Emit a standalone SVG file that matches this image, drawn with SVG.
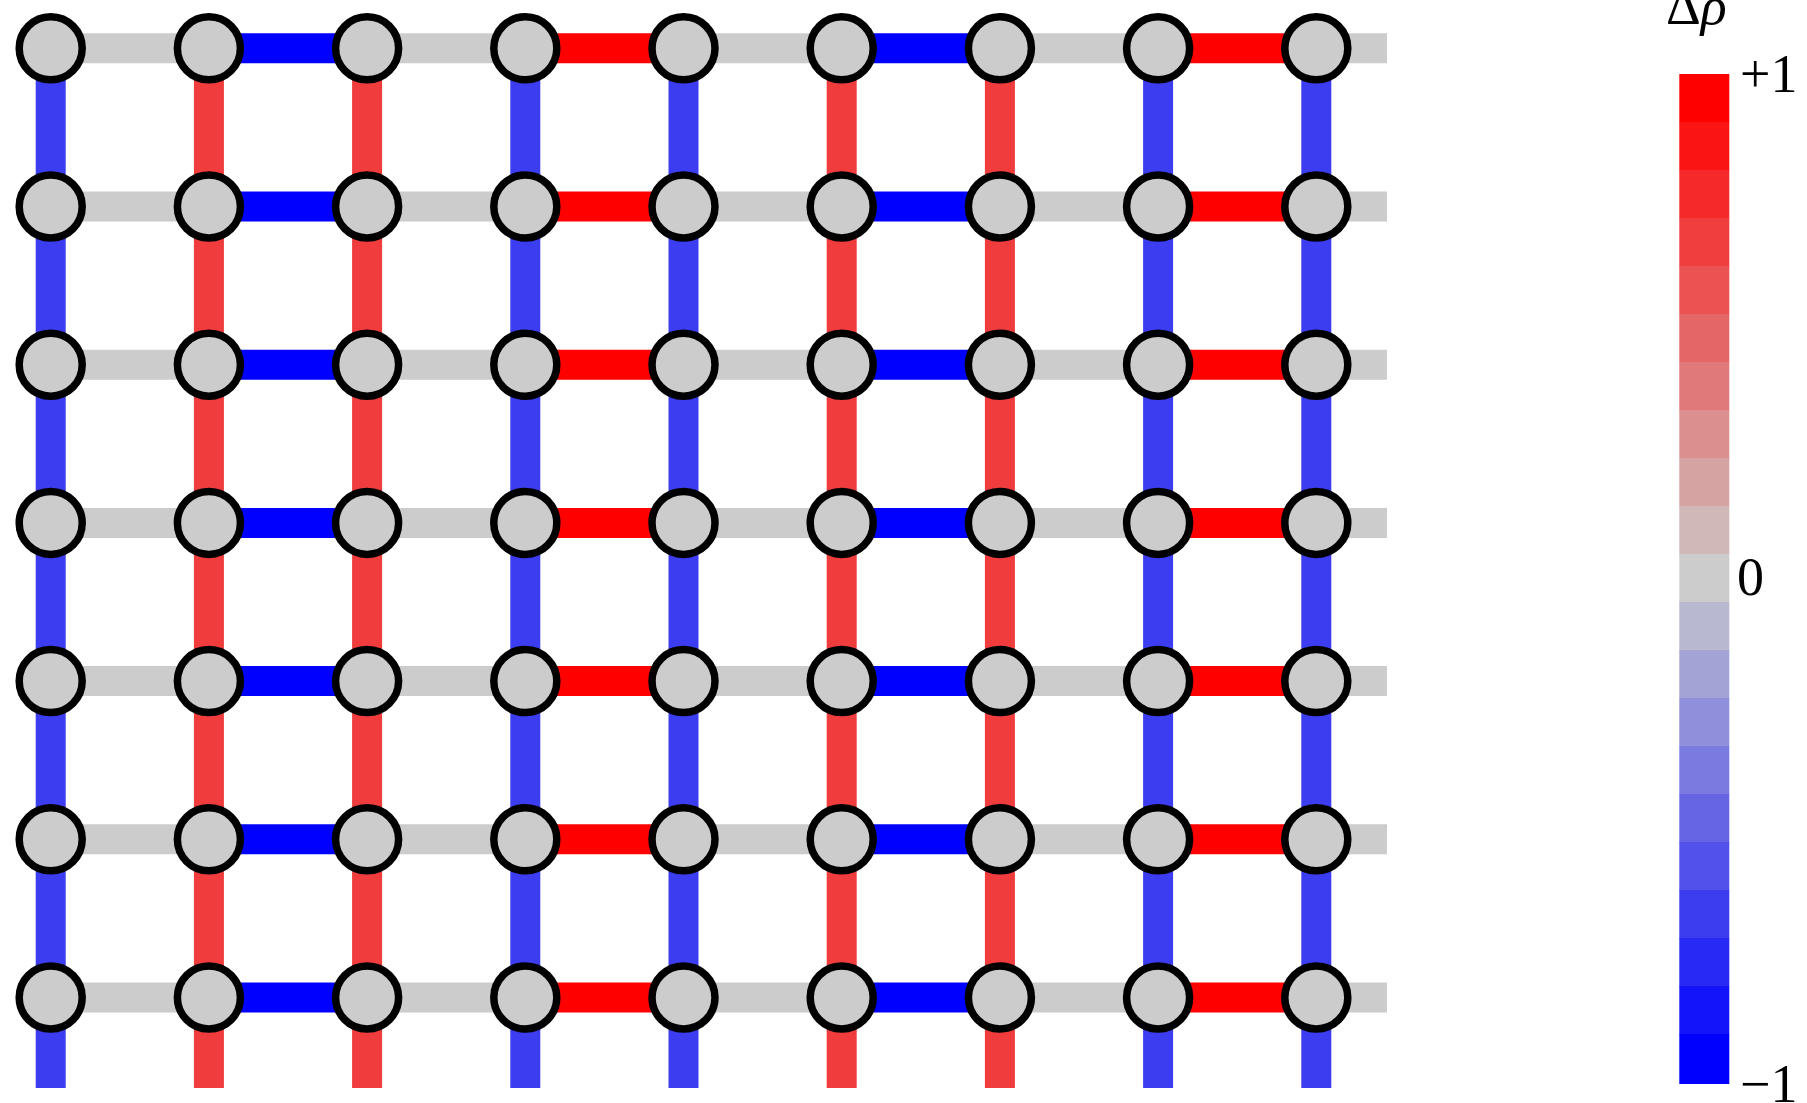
<svg xmlns="http://www.w3.org/2000/svg" width="1807" height="1103" viewBox="0 0 1807 1103">
<style>
.g{stroke:#cccccc;stroke-width:30;fill:none}
.hb{stroke:#0000ff;stroke-width:30;fill:none}
.hr{stroke:#ff0000;stroke-width:30;fill:none}
.vb{stroke:#3c3cf0;stroke-width:30;fill:none}
.vr{stroke:#f03c3c;stroke-width:30;fill:none}
.n{fill:#cccccc;stroke:#000000;stroke-width:7.5}
.t{font-family:"Liberation Serif","Times New Roman",serif;font-size:54px;fill:#000}
</style>
<rect width="1807" height="1103" fill="#ffffff"/>
<g id="connectors">
<line class="vb" x1="50.7" y1="48.3" x2="50.7" y2="1088"/>
<line class="vr" x1="208.9" y1="48.3" x2="208.9" y2="1088"/>
<line class="vr" x1="367.1" y1="48.3" x2="367.1" y2="1088"/>
<line class="vb" x1="525.3" y1="48.3" x2="525.3" y2="1088"/>
<line class="vb" x1="683.5" y1="48.3" x2="683.5" y2="1088"/>
<line class="vr" x1="841.7" y1="48.3" x2="841.7" y2="1088"/>
<line class="vr" x1="999.9" y1="48.3" x2="999.9" y2="1088"/>
<line class="vb" x1="1158.1" y1="48.3" x2="1158.1" y2="1088"/>
<line class="vb" x1="1316.3" y1="48.3" x2="1316.3" y2="1088"/>
<g id="row0" transform="translate(0,48.3)">
<line class="g" x1="50.7" y1="0" x2="208.9" y2="0"/><line class="hb" x1="208.9" y1="0" x2="367.1" y2="0"/><line class="g" x1="367.1" y1="0" x2="525.3" y2="0"/><line class="hr" x1="525.3" y1="0" x2="683.5" y2="0"/><line class="g" x1="683.5" y1="0" x2="841.7" y2="0"/><line class="hb" x1="841.7" y1="0" x2="999.9" y2="0"/><line class="g" x1="999.9" y1="0" x2="1158.1" y2="0"/><line class="hr" x1="1158.1" y1="0" x2="1316.3" y2="0"/><line class="g" x1="1316.3" y1="0" x2="1387" y2="0"/>
</g>
<g id="row1" transform="translate(0,206.5)">
<line class="g" x1="50.7" y1="0" x2="208.9" y2="0"/><line class="hb" x1="208.9" y1="0" x2="367.1" y2="0"/><line class="g" x1="367.1" y1="0" x2="525.3" y2="0"/><line class="hr" x1="525.3" y1="0" x2="683.5" y2="0"/><line class="g" x1="683.5" y1="0" x2="841.7" y2="0"/><line class="hb" x1="841.7" y1="0" x2="999.9" y2="0"/><line class="g" x1="999.9" y1="0" x2="1158.1" y2="0"/><line class="hr" x1="1158.1" y1="0" x2="1316.3" y2="0"/><line class="g" x1="1316.3" y1="0" x2="1387" y2="0"/>
</g>
<g id="row2" transform="translate(0,364.7)">
<line class="g" x1="50.7" y1="0" x2="208.9" y2="0"/><line class="hb" x1="208.9" y1="0" x2="367.1" y2="0"/><line class="g" x1="367.1" y1="0" x2="525.3" y2="0"/><line class="hr" x1="525.3" y1="0" x2="683.5" y2="0"/><line class="g" x1="683.5" y1="0" x2="841.7" y2="0"/><line class="hb" x1="841.7" y1="0" x2="999.9" y2="0"/><line class="g" x1="999.9" y1="0" x2="1158.1" y2="0"/><line class="hr" x1="1158.1" y1="0" x2="1316.3" y2="0"/><line class="g" x1="1316.3" y1="0" x2="1387" y2="0"/>
</g>
<g id="row3" transform="translate(0,522.9)">
<line class="g" x1="50.7" y1="0" x2="208.9" y2="0"/><line class="hb" x1="208.9" y1="0" x2="367.1" y2="0"/><line class="g" x1="367.1" y1="0" x2="525.3" y2="0"/><line class="hr" x1="525.3" y1="0" x2="683.5" y2="0"/><line class="g" x1="683.5" y1="0" x2="841.7" y2="0"/><line class="hb" x1="841.7" y1="0" x2="999.9" y2="0"/><line class="g" x1="999.9" y1="0" x2="1158.1" y2="0"/><line class="hr" x1="1158.1" y1="0" x2="1316.3" y2="0"/><line class="g" x1="1316.3" y1="0" x2="1387" y2="0"/>
</g>
<g id="row4" transform="translate(0,681.1)">
<line class="g" x1="50.7" y1="0" x2="208.9" y2="0"/><line class="hb" x1="208.9" y1="0" x2="367.1" y2="0"/><line class="g" x1="367.1" y1="0" x2="525.3" y2="0"/><line class="hr" x1="525.3" y1="0" x2="683.5" y2="0"/><line class="g" x1="683.5" y1="0" x2="841.7" y2="0"/><line class="hb" x1="841.7" y1="0" x2="999.9" y2="0"/><line class="g" x1="999.9" y1="0" x2="1158.1" y2="0"/><line class="hr" x1="1158.1" y1="0" x2="1316.3" y2="0"/><line class="g" x1="1316.3" y1="0" x2="1387" y2="0"/>
</g>
<g id="row5" transform="translate(0,839.3)">
<line class="g" x1="50.7" y1="0" x2="208.9" y2="0"/><line class="hb" x1="208.9" y1="0" x2="367.1" y2="0"/><line class="g" x1="367.1" y1="0" x2="525.3" y2="0"/><line class="hr" x1="525.3" y1="0" x2="683.5" y2="0"/><line class="g" x1="683.5" y1="0" x2="841.7" y2="0"/><line class="hb" x1="841.7" y1="0" x2="999.9" y2="0"/><line class="g" x1="999.9" y1="0" x2="1158.1" y2="0"/><line class="hr" x1="1158.1" y1="0" x2="1316.3" y2="0"/><line class="g" x1="1316.3" y1="0" x2="1387" y2="0"/>
</g>
<g id="row6" transform="translate(0,997.5)">
<line class="g" x1="50.7" y1="0" x2="208.9" y2="0"/><line class="hb" x1="208.9" y1="0" x2="367.1" y2="0"/><line class="g" x1="367.1" y1="0" x2="525.3" y2="0"/><line class="hr" x1="525.3" y1="0" x2="683.5" y2="0"/><line class="g" x1="683.5" y1="0" x2="841.7" y2="0"/><line class="hb" x1="841.7" y1="0" x2="999.9" y2="0"/><line class="g" x1="999.9" y1="0" x2="1158.1" y2="0"/><line class="hr" x1="1158.1" y1="0" x2="1316.3" y2="0"/><line class="g" x1="1316.3" y1="0" x2="1387" y2="0"/>
</g>
</g>
<g id="nodes">
<g id="n0_0"><circle class="n" cx="50.7" cy="48.3" r="31.5"/></g>
<g id="n0_1"><circle class="n" cx="208.9" cy="48.3" r="31.5"/></g>
<g id="n0_2"><circle class="n" cx="367.1" cy="48.3" r="31.5"/></g>
<g id="n0_3"><circle class="n" cx="525.3" cy="48.3" r="31.5"/></g>
<g id="n0_4"><circle class="n" cx="683.5" cy="48.3" r="31.5"/></g>
<g id="n0_5"><circle class="n" cx="841.7" cy="48.3" r="31.5"/></g>
<g id="n0_6"><circle class="n" cx="999.9" cy="48.3" r="31.5"/></g>
<g id="n0_7"><circle class="n" cx="1158.1" cy="48.3" r="31.5"/></g>
<g id="n0_8"><circle class="n" cx="1316.3" cy="48.3" r="31.5"/></g>
<g id="n1_0"><circle class="n" cx="50.7" cy="206.5" r="31.5"/></g>
<g id="n1_1"><circle class="n" cx="208.9" cy="206.5" r="31.5"/></g>
<g id="n1_2"><circle class="n" cx="367.1" cy="206.5" r="31.5"/></g>
<g id="n1_3"><circle class="n" cx="525.3" cy="206.5" r="31.5"/></g>
<g id="n1_4"><circle class="n" cx="683.5" cy="206.5" r="31.5"/></g>
<g id="n1_5"><circle class="n" cx="841.7" cy="206.5" r="31.5"/></g>
<g id="n1_6"><circle class="n" cx="999.9" cy="206.5" r="31.5"/></g>
<g id="n1_7"><circle class="n" cx="1158.1" cy="206.5" r="31.5"/></g>
<g id="n1_8"><circle class="n" cx="1316.3" cy="206.5" r="31.5"/></g>
<g id="n2_0"><circle class="n" cx="50.7" cy="364.7" r="31.5"/></g>
<g id="n2_1"><circle class="n" cx="208.9" cy="364.7" r="31.5"/></g>
<g id="n2_2"><circle class="n" cx="367.1" cy="364.7" r="31.5"/></g>
<g id="n2_3"><circle class="n" cx="525.3" cy="364.7" r="31.5"/></g>
<g id="n2_4"><circle class="n" cx="683.5" cy="364.7" r="31.5"/></g>
<g id="n2_5"><circle class="n" cx="841.7" cy="364.7" r="31.5"/></g>
<g id="n2_6"><circle class="n" cx="999.9" cy="364.7" r="31.5"/></g>
<g id="n2_7"><circle class="n" cx="1158.1" cy="364.7" r="31.5"/></g>
<g id="n2_8"><circle class="n" cx="1316.3" cy="364.7" r="31.5"/></g>
<g id="n3_0"><circle class="n" cx="50.7" cy="522.9" r="31.5"/></g>
<g id="n3_1"><circle class="n" cx="208.9" cy="522.9" r="31.5"/></g>
<g id="n3_2"><circle class="n" cx="367.1" cy="522.9" r="31.5"/></g>
<g id="n3_3"><circle class="n" cx="525.3" cy="522.9" r="31.5"/></g>
<g id="n3_4"><circle class="n" cx="683.5" cy="522.9" r="31.5"/></g>
<g id="n3_5"><circle class="n" cx="841.7" cy="522.9" r="31.5"/></g>
<g id="n3_6"><circle class="n" cx="999.9" cy="522.9" r="31.5"/></g>
<g id="n3_7"><circle class="n" cx="1158.1" cy="522.9" r="31.5"/></g>
<g id="n3_8"><circle class="n" cx="1316.3" cy="522.9" r="31.5"/></g>
<g id="n4_0"><circle class="n" cx="50.7" cy="681.1" r="31.5"/></g>
<g id="n4_1"><circle class="n" cx="208.9" cy="681.1" r="31.5"/></g>
<g id="n4_2"><circle class="n" cx="367.1" cy="681.1" r="31.5"/></g>
<g id="n4_3"><circle class="n" cx="525.3" cy="681.1" r="31.5"/></g>
<g id="n4_4"><circle class="n" cx="683.5" cy="681.1" r="31.5"/></g>
<g id="n4_5"><circle class="n" cx="841.7" cy="681.1" r="31.5"/></g>
<g id="n4_6"><circle class="n" cx="999.9" cy="681.1" r="31.5"/></g>
<g id="n4_7"><circle class="n" cx="1158.1" cy="681.1" r="31.5"/></g>
<g id="n4_8"><circle class="n" cx="1316.3" cy="681.1" r="31.5"/></g>
<g id="n5_0"><circle class="n" cx="50.7" cy="839.3" r="31.5"/></g>
<g id="n5_1"><circle class="n" cx="208.9" cy="839.3" r="31.5"/></g>
<g id="n5_2"><circle class="n" cx="367.1" cy="839.3" r="31.5"/></g>
<g id="n5_3"><circle class="n" cx="525.3" cy="839.3" r="31.5"/></g>
<g id="n5_4"><circle class="n" cx="683.5" cy="839.3" r="31.5"/></g>
<g id="n5_5"><circle class="n" cx="841.7" cy="839.3" r="31.5"/></g>
<g id="n5_6"><circle class="n" cx="999.9" cy="839.3" r="31.5"/></g>
<g id="n5_7"><circle class="n" cx="1158.1" cy="839.3" r="31.5"/></g>
<g id="n5_8"><circle class="n" cx="1316.3" cy="839.3" r="31.5"/></g>
<g id="n6_0"><circle class="n" cx="50.7" cy="997.5" r="31.5"/></g>
<g id="n6_1"><circle class="n" cx="208.9" cy="997.5" r="31.5"/></g>
<g id="n6_2"><circle class="n" cx="367.1" cy="997.5" r="31.5"/></g>
<g id="n6_3"><circle class="n" cx="525.3" cy="997.5" r="31.5"/></g>
<g id="n6_4"><circle class="n" cx="683.5" cy="997.5" r="31.5"/></g>
<g id="n6_5"><circle class="n" cx="841.7" cy="997.5" r="31.5"/></g>
<g id="n6_6"><circle class="n" cx="999.9" cy="997.5" r="31.5"/></g>
<g id="n6_7"><circle class="n" cx="1158.1" cy="997.5" r="31.5"/></g>
<g id="n6_8"><circle class="n" cx="1316.3" cy="997.5" r="31.5"/></g>
</g>
<g id="colorbar">
<rect x="1679.3" y="74" width="50" height="48.5" fill="#ff0000"/>
<rect x="1679.3" y="122" width="50" height="48.5" fill="#fa1414"/>
<rect x="1679.3" y="170" width="50" height="48.5" fill="#f52929"/>
<rect x="1679.3" y="218" width="50" height="48.5" fill="#f03d3d"/>
<rect x="1679.3" y="266" width="50" height="48.5" fill="#eb5252"/>
<rect x="1679.3" y="314" width="50" height="48.5" fill="#e56666"/>
<rect x="1679.3" y="362" width="50" height="48.5" fill="#e07a7a"/>
<rect x="1679.3" y="410" width="50" height="48.5" fill="#db8f8f"/>
<rect x="1679.3" y="458" width="50" height="48.5" fill="#d6a3a3"/>
<rect x="1679.3" y="506" width="50" height="48.5" fill="#d1b8b8"/>
<rect x="1679.3" y="554" width="50" height="48.5" fill="#cccccc"/>
<rect x="1679.3" y="602" width="50" height="48.5" fill="#b8b8d1"/>
<rect x="1679.3" y="650" width="50" height="48.5" fill="#a3a3d6"/>
<rect x="1679.3" y="698" width="50" height="48.5" fill="#8f8fdb"/>
<rect x="1679.3" y="746" width="50" height="48.5" fill="#7a7ae0"/>
<rect x="1679.3" y="794" width="50" height="48.5" fill="#6666e5"/>
<rect x="1679.3" y="842" width="50" height="48.5" fill="#5252eb"/>
<rect x="1679.3" y="890" width="50" height="48.5" fill="#3d3df0"/>
<rect x="1679.3" y="938" width="50" height="48.5" fill="#2929f5"/>
<rect x="1679.3" y="986" width="50" height="48.5" fill="#1414fa"/>
<rect x="1679.3" y="1034" width="50" height="50" fill="#0000ff"/>
<text class="t" x="1666" y="24">Δ<tspan font-style="italic">ρ</tspan></text>
<text class="t" x="1740" y="92">+1</text>
<text class="t" x="1737" y="595">0</text>
<text class="t" x="1740" y="1102">−1</text>
</g>
</svg>
